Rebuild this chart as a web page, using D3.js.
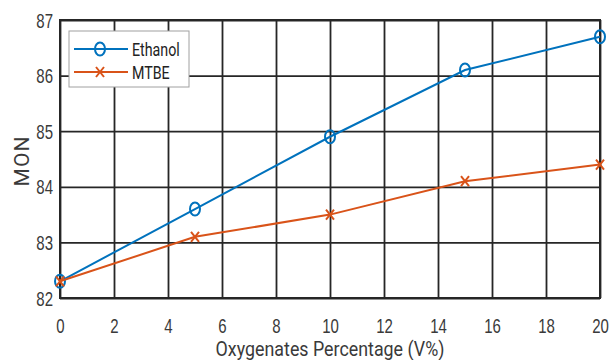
<!DOCTYPE html>
<html>
<head>
<meta charset="utf-8">
<script src="https://cdn.jsdelivr.net/npm/d3@7"></script>
<style>
  html, body { margin: 0; padding: 0; background: #fff; }
  svg { display: block; font-family: Roboto, "Liberation Sans", sans-serif; }
</style>
</head>
<body>
<svg id="chart" width="610" height="360"></svg>
<script>
// Oxygenate blend level (V%) and the resulting motor octane number
const percentages = [0, 5, 10, 15, 20];
const ethanolMON = [82.3, 83.6, 84.9, 86.1, 86.7];
const mtbeMON = [82.3, 83.1, 83.5, 84.1, 84.4];
const xTicks = [0, 2, 4, 6, 8, 10, 12, 14, 16, 18, 20];
const yTicks = [82, 83, 84, 85, 86, 87];
const seriesNames = ["Ethanol", "MTBE"];

const svg = d3.select("#chart");
const margin = { left: 60, right: 10, top: 20, bottom: 62 };
const W = 610, H = 360;
const iw = W - margin.left - margin.right;
const ih = H - margin.top - margin.bottom;
const squeeze = 0.75; // narrow glyphs

const x = d3.scaleLinear().domain([0, 20]).range([0, iw]);
const y = d3.scaleLinear().domain([82, 87]).range([ih, 0]);

const g = svg.append("g").attr("transform", `translate(${margin.left},${margin.top})`);

const gridColor = "#262626";

// grid
const xAxis = d3.axisBottom(x).tickValues(xTicks).tickFormat(d3.format("d"))
  .tickSize(-ih).tickPadding(0);
const gx = g.append("g").attr("transform", `translate(0,${ih})`).call(xAxis);
gx.select(".domain").remove();
gx.selectAll("line").attr("stroke", gridColor).attr("stroke-width", 1.8);
gx.selectAll("text")
  .attr("y", 0).attr("dy", 0)
  .attr("transform", `translate(0,35) scale(${squeeze},1)`)
  .attr("font-size", 20).attr("fill", "#3a3a3a");

const yAxis = d3.axisLeft(y).tickValues(yTicks).tickFormat(d3.format("d"))
  .tickSize(-iw).tickPadding(0);
const gy = g.append("g").call(yAxis);
gy.select(".domain").remove();
gy.selectAll("line").attr("stroke", gridColor).attr("stroke-width", 1.8);
gy.selectAll("text")
  .attr("x", 0).attr("dy", 0)
  .attr("transform", `translate(-7,7) scale(${squeeze},1)`)
  .attr("font-size", 20).attr("fill", "#3a3a3a");

// plot frame
g.append("rect").attr("x", 0).attr("y", 0).attr("width", iw).attr("height", ih)
  .attr("fill", "none").attr("stroke", gridColor).attr("stroke-width", 2);

const series = [
  { name: seriesNames[0], values: ethanolMON, color: "#0072BD", marker: "circle" },
  { name: seriesNames[1], values: mtbeMON, color: "#D95319", marker: "cross" }
];

const line = d3.line().x((d, i) => x(percentages[i])).y(d => y(d));

function drawMarker(sel, type, color) {
  if (type === "circle") {
    sel.append("ellipse").attr("rx", 5).attr("ry", 6.5)
      .attr("fill", "none").attr("stroke", color).attr("stroke-width", 2);
  } else {
    sel.append("path").attr("d", "M-4,-5L4,5M-4,5L4,-5")
      .attr("fill", "none").attr("stroke", color).attr("stroke-width", 2);
  }
}

series.forEach(s => {
  g.append("path").datum(s.values)
    .attr("d", line).attr("fill", "none")
    .attr("stroke", s.color).attr("stroke-width", 2);
  s.values.forEach((v, i) => {
    const m = g.append("g").attr("transform", `translate(${x(percentages[i])},${y(v)})`);
    drawMarker(m, s.marker, s.color);
  });
});

// legend
const lg = svg.append("g").attr("transform", "translate(69,31)");
lg.append("rect").attr("width", 120).attr("height", 56)
  .attr("fill", "#fff").attr("stroke", "#a0a0a0").attr("stroke-width", 1);
series.forEach((s, i) => {
  const cy = 18 + i * 23;
  lg.append("line").attr("x1", 5).attr("x2", 59).attr("y1", cy).attr("y2", cy)
    .attr("stroke", s.color).attr("stroke-width", 2);
  const m = lg.append("g").attr("transform", `translate(31,${cy})`);
  drawMarker(m, s.marker, s.color);
  lg.append("text")
    .attr("transform", `translate(63,${cy + 7}) scale(${squeeze},1)`)
    .attr("font-size", 19).attr("fill", "#222").text(s.name);
});

// axis titles
svg.append("text")
  .attr("transform", `translate(${margin.left + iw / 2},356) scale(0.85,1)`)
  .attr("text-anchor", "middle").attr("font-size", 21).attr("fill", "#3a3a3a")
  .text("Oxygenates Percentage (V%)");

svg.append("text")
  .attr("transform", "translate(29,161) rotate(-90)")
  .attr("text-anchor", "middle").attr("font-size", 21).attr("letter-spacing", 1)
  .attr("fill", "#3a3a3a")
  .text("MON");
</script>
</body>
</html>
